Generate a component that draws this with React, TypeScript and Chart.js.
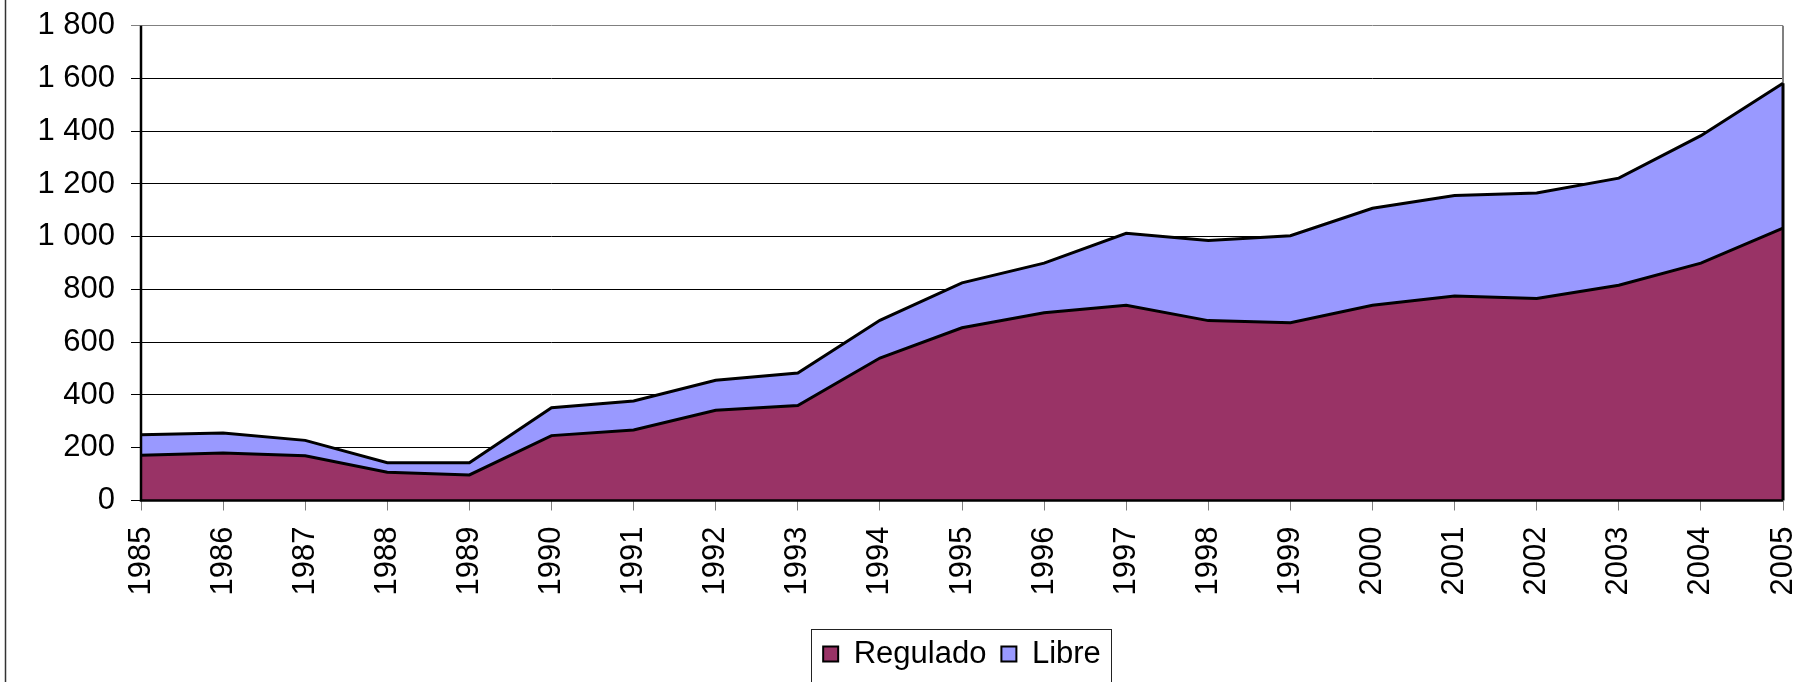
import React, { useEffect, useRef } from "react";
import { Chart, registerables } from "chart.js";

Chart.register(...registerables);

const years = [
  "1985", "1986", "1987", "1988", "1989", "1990", "1991", "1992", "1993", "1994",
  "1995", "1996", "1997", "1998", "1999", "2000", "2001", "2002", "2003", "2004", "2005",
];
const regulado = [172, 180, 170, 107, 97, 246, 267, 342, 360, 540, 655, 712, 740, 682, 674, 740, 775, 766, 816, 900, 1033];
const libre = [77, 76, 58, 36, 46, 106, 110, 114, 123, 143, 170, 188, 273, 304, 330, 368, 381, 400, 406, 483, 549];
const yMin = 0;
const yMax = 1800;
const yStep = 200;

const FONT = "'Liberation Sans', Arial, Helvetica, sans-serif";

function fmt(n: number): string {
  if (n >= 1000) {
    return `${Math.floor(n / 1000)} ${String(n % 1000).padStart(3, "0")}`;
  }
  return String(n);
}

export default function App() {
  const ref = useRef<HTMLCanvasElement>(null);

  useEffect(() => {
    document.body.style.margin = "0";
    const canvas = ref.current;
    if (!canvas) return;

    const frame = {
      id: "frame",
      beforeDatasetsDraw(chart: any) {
        const { ctx, chartArea } = chart;
        ctx.save();
        ctx.strokeStyle = "#808080";
        ctx.lineWidth = 2;
        ctx.beginPath();
        ctx.moveTo(chartArea.right, chartArea.top);
        ctx.lineTo(chartArea.right, chartArea.bottom);
        ctx.stroke();
        ctx.restore();
      },
      afterDatasetsDraw(chart: any) {
        const { ctx, chartArea } = chart;
        const top = chart.getDatasetMeta(1).data;
        const last = top[top.length - 1];
        ctx.save();
        ctx.strokeStyle = "#000";
        ctx.lineWidth = 3;
        ctx.beginPath();
        ctx.moveTo(last.x, last.y);
        ctx.lineTo(last.x, chartArea.bottom);
        ctx.stroke();
        ctx.lineWidth = 2.5;
        ctx.beginPath();
        ctx.moveTo(chartArea.left, chartArea.top);
        ctx.lineTo(chartArea.left, chartArea.bottom);
        ctx.lineTo(chartArea.right, chartArea.bottom);
        ctx.stroke();
        ctx.restore();
      },
      afterDraw(chart: any) {
        const { ctx } = chart;
        const boxes = chart.legend?.legendHitBoxes;
        ctx.save();
        if (boxes && boxes.length) {
          const first = boxes[0];
          const lastB = boxes[boxes.length - 1];
          const l = first.left - 12;
          const r = lastB.left + lastB.width + 10;
          const t = first.top - 10;
          ctx.strokeStyle = "#222";
          ctx.lineWidth = 1;
          ctx.strokeRect(Math.round(l) + 0.5, Math.round(t) + 0.5, Math.round(r - l), chart.height);
        }
        ctx.strokeStyle = "#333";
        ctx.lineWidth = 1.5;
        ctx.beginPath();
        ctx.moveTo(5.5, 0);
        ctx.lineTo(5.5, chart.height);
        ctx.stroke();
        ctx.restore();
      },
    };

    const chart = new Chart(canvas, {
      type: "line",
      data: {
        labels: years,
        datasets: [
          {
            label: "Regulado",
            data: regulado,
            backgroundColor: "#993366",
            borderColor: "#000",
            borderWidth: 3,
            fill: "origin",
            pointRadius: 0,
            tension: 0,
          },
          {
            label: "Libre",
            data: libre,
            backgroundColor: "#9999FF",
            borderColor: "#000",
            borderWidth: 3,
            fill: "-1",
            pointRadius: 0,
            tension: 0,
          },
        ],
      },
      options: {
        animation: false,
        responsive: true,
        maintainAspectRatio: false,
        layout: { padding: { top: 25.7, right: 17, left: 0, bottom: 11.5 } },
        plugins: {
          tooltip: { enabled: false },
          legend: {
            position: "bottom",
            fullSize: false,
            labels: {
              boxWidth: 15,
              boxHeight: 15,
              padding: 15,
              color: "#000",
              font: { family: FONT, size: 31 },
              generateLabels: (c: any) =>
                Chart.defaults.plugins.legend.labels
                  .generateLabels(c)
                  .map((it: any) => ({ ...it, lineWidth: 2 })),
            },
          },
        },
        scales: {
          x: {
            offset: false,
            border: { display: false },
            grid: {
              display: true,
              drawOnChartArea: false,
              drawTicks: true,
              tickLength: 10,
              color: "#808080",
              lineWidth: 1,
            },
            ticks: {
              autoSkip: false,
              minRotation: 90,
              maxRotation: 90,
              padding: 16,
              color: "#000",
              font: { family: FONT, size: 31 },
            },
            afterFit(scale: any) {
              scale.height = 123;
              scale.paddingLeft = 0;
              scale.paddingRight = 0;
            },
          },
          y: {
            stacked: true,
            min: yMin,
            max: yMax,
            border: { display: false },
            grid: {
              tickLength: 10,
              lineWidth: 1,
              color: (c: any) => (c.tick && c.tick.value === yMax ? "#808080" : "#000"),
            },
            ticks: {
              stepSize: yStep,
              padding: 16,
              color: "#000",
              font: { family: FONT, size: 31 },
              callback: (v: any) => fmt(Number(v)),
            },
            afterFit(scale: any) {
              scale.width = 141;
              scale.paddingTop = 0;
              scale.paddingBottom = 0;
            },
          },
        },
      },
      plugins: [frame],
    });

    return () => chart.destroy();
  }, []);

  return (
    <div style={{ width: 1800, height: 682, overflow: "hidden", position: "relative" }}>
      <div style={{ width: 1800, height: 691 }}>
        <canvas ref={ref} />
      </div>
    </div>
  );
}
